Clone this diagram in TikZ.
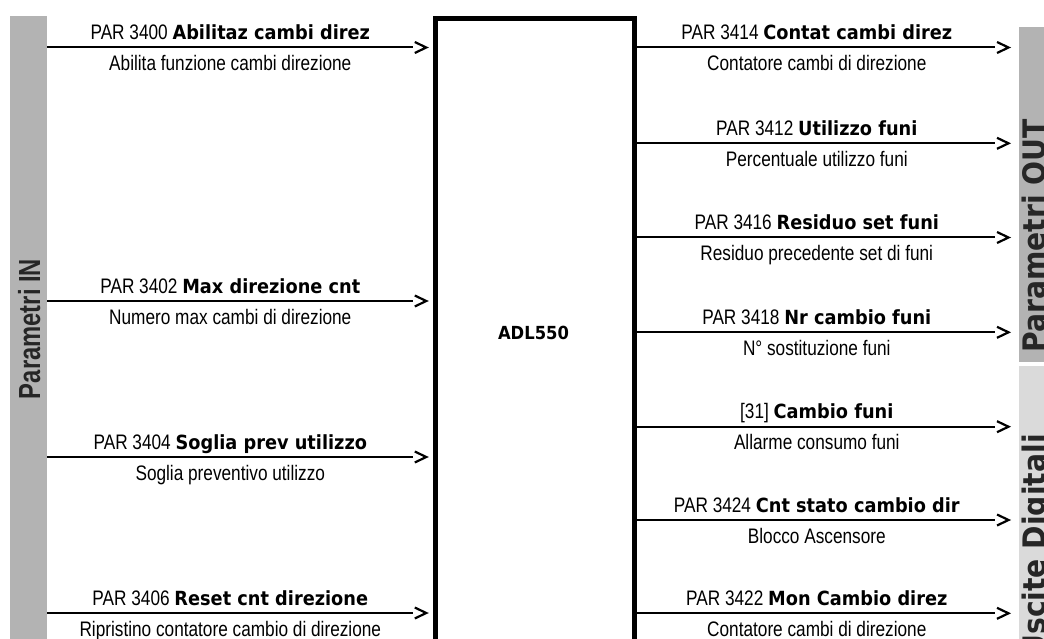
\documentclass[tikz,border=0pt]{standalone}
\usepackage{fontspec}
\setmainfont{Liberation Sans}[FakeStretch=0.82]
\newfontfamily\namefont{DejaVu Sans}[FakeStretch=0.91]
\newfontfamily\barfont{Liberation Sans}[FakeStretch=0.78]
\usetikzlibrary{arrows.meta,calc,positioning}
\definecolor{bardark}{RGB}{179,179,179}
\definecolor{barlight}{RGB}{218,218,218}

% punta a ">" staccata dalla linea
\pgfdeclarearrow{
	name=Chevron,
	setup code={
		\pgfarrowssettipend{0pt}
		\pgfarrowssetlineend{-15pt}
		\pgfarrowssetbackend{-14pt}
		\pgfarrowssetvisualbackend{-14pt}
		\pgfarrowshullpoint{0pt}{0pt}
		\pgfarrowshullpoint{-14pt}{5.5pt}
		\pgfarrowshullpoint{-14pt}{-5.5pt}
	},
	drawing code={
		\pgfsetlinewidth{2.2pt}
		\pgfsetmiterjoin
		\pgfpathmoveto{\pgfpoint{-13pt}{5.5pt}}
		\pgfpathlineto{\pgfpoint{-1.5pt}{0pt}}
		\pgfpathlineto{\pgfpoint{-13pt}{-5.5pt}}
		\pgfusepathqstroke
	}
}

\begin{document}
\begin{tikzpicture}
	[x=1pt,y=-1pt,every node/.style={inner sep=0pt,font=\fontsize{21}{24}\selectfont},
	bar/.style={draw=none,fill=bardark,minimum width=37pt,anchor=north west},
	wire/.style={line width=2pt,-Chevron},
	over/.style={anchor=base,yshift=8pt},
	under/.style={anchor=base,yshift=-23pt},
	title/.style={rotate=90,anchor=base,text=black!85,font=\barfont\fontsize{30.5}{32}\selectfont\bfseries},
	sidetitle/.style={title,font=\namefont\fontsize{31}{33}\selectfont\bfseries}]
	\useasboundingbox (0,0) rectangle (1044,639);
	\clip (0,0) rectangle (1044,639);

	\node[bar,minimum height=634pt] (inbar) at (10,16) {};
	\node[bar,minimum height=335pt] (outbar) at (1019,27) {};
	\node[bar,fill=barlight,minimum height=284pt] (digbar) at (1019,366) {};
	\node[draw,line width=4.5pt,minimum width=199pt,minimum height=700pt,anchor=north west] (adl) at (433.25,16.25) {};
	\node[font=\namefont\fontsize{18}{20}\selectfont\bfseries] (adlname) at (533.5,333) {ADL550};

	\node[title] (intitle) at (40,329) {Parametri IN};
	\node[sidetitle] (outtitle) at (1045,236) {Parametri OUT};
	\node[sidetitle] (digtitle) at (1045,546) {Uscite Digitali};

	% ingressi
	\foreach \yy/\ptag/\pname/\pdesc [count=\i] in {
		47.5/PAR 3400/Abilitaz cambi direz/Abilita funzione cambi direzione,
		301/PAR 3402/Max direzione cnt/Numero max cambi di direzione,
		457/PAR 3404/Soglia prev utilizzo/Soglia preventivo utilizzo,
		613/PAR 3406/Reset cnt direzione/Ripristino contatore cambio di direzione}{
		\coordinate (in\i) at (inbar.east |- 0,\yy);
		\draw[wire,shorten >=5.5pt] (in\i) -- (in\i -| adl.west)
			node[over,pos=.474] {\ptag\ {\namefont\bfseries\fontsize{19.5}{22}\selectfont\pname}}
			node[under,pos=.474] {\pdesc};
	}

	% uscite
	\foreach \yy/\ptag/\pname/\pdesc [count=\i] in {
		47.5/PAR 3414/Contat cambi direz/Contatore cambi di direzione,
		143.3/PAR 3412/Utilizzo funi/Percentuale utilizzo funi,
		237.5/PAR 3416/Residuo set funi/Residuo precedente set di funi,
		332.3/PAR 3418/Nr cambio funi/N° sostituzione funi,
		426.7/[31]/Cambio funi/Allarme consumo funi,
		520/PAR 3424/Cnt stato cambio dir/Blocco Ascensore,
		613.3/PAR 3422/Mon Cambio direz/Contatore cambi di direzione}{
		\coordinate (out\i) at (adl.east |- 0,\yy);
		\draw[wire,shorten >=9pt] (out\i) -- (out\i -| outbar.west)
			node[over,pos=.471] {\ptag\ {\namefont\bfseries\fontsize{19.5}{22}\selectfont\pname}}
			node[under,pos=.471] {\pdesc};
	}
\end{tikzpicture}
\end{document}
